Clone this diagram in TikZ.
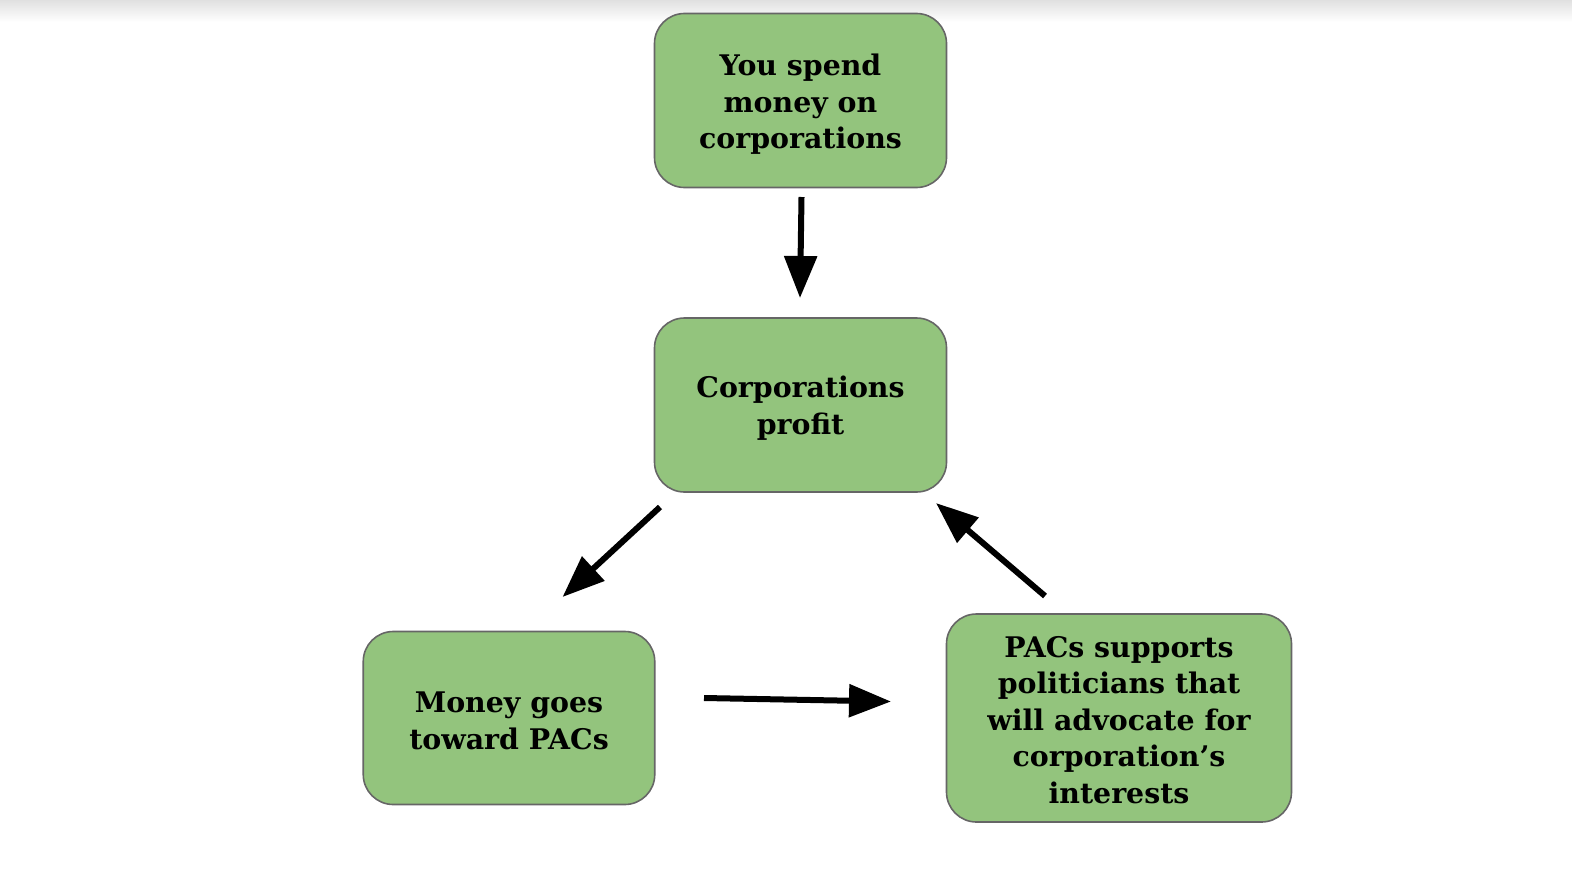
\documentclass[tikz,border=0pt]{standalone}
\usepackage{fontspec}
\setmainfont{DejaVu Serif}
\usetikzlibrary{arrows.meta}
\definecolor{boxgreen}{HTML}{93C47D}
\definecolor{boxline}{HTML}{666666}
\begin{document}
\begin{tikzpicture}[x=1bp,y=-1bp,
  box/.style={draw=boxline,line width=1.6bp,fill=boxgreen,rounded corners=30bp,inner sep=0pt},
  txt/.style={inner sep=0pt,align=center,font=\fontsize{28.5}{36.5}\selectfont\bfseries},
  flow/.style={line width=6bp,-{Triangle[length=42bp,width=32bp]}}]
\useasboundingbox (0,0) rectangle (1572,886);
\shade[top color=black!12,bottom color=white] (0,0) rectangle (1572,22);
\node[box,minimum width=292bp,minimum height=174bp] (top) at (800.5,100.5) {};
\node[box,minimum width=292bp,minimum height=174bp] (mid) at (800.5,405) {};
\node[box,minimum width=291.5bp,minimum height=173bp] (left) at (509,718) {};
\node[box,minimum width=345bp,minimum height=208bp] (right) at (1119,718) {};
\node[txt] (toptext) at ([yshift=-4bp]top.center) {You spend\\money on\\corporations};
\node[txt] (midtext) at ([yshift=-3bp]mid.center) {Corporations\\profit};
\node[txt] (lefttext) at ([yshift=-3bp]left.center) {Money goes\\toward PACs};
\node[txt] (righttext) at ([yshift=-2bp]right.center) {PACs supports\\politicians that\\will advocate for\\corporation’s\\interests};
\coordinate (a1) at (801.5,197); \coordinate (a2) at (800,298);
\coordinate (b1) at (660,507); \coordinate (b2) at (562.5,597);
\coordinate (c1) at (704,698); \coordinate (c2) at (891,701.5);
\coordinate (d1) at (1045,596); \coordinate (d2) at (936,503);
\draw[flow] (a1) -- (a2);
\draw[flow] (b1) -- (b2);
\draw[flow] (c1) -- (c2);
\draw[flow] (d1) -- (d2);
\end{tikzpicture}
\end{document}
